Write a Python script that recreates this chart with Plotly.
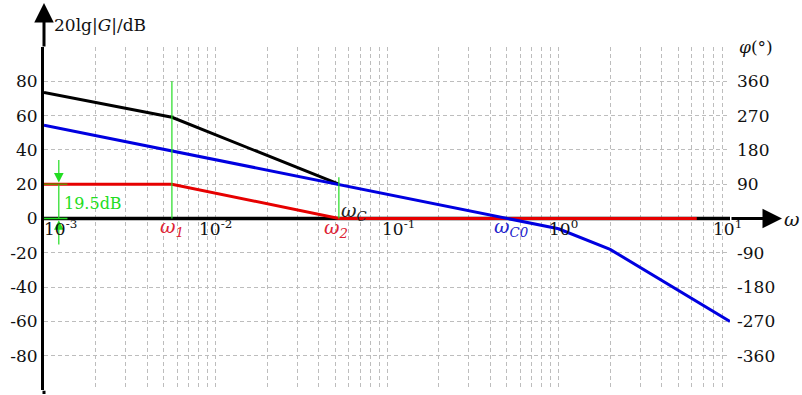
import math
import plotly.graph_objects as go

# ---------------- data ----------------
w_black = [0.001, 0.00557, 0.0524]
db_black = [73.5, 59.0, 20.0]

w_blue = [0.001, 0.0524, 0.51, 1.0, 2.0, 10.0]
db_blue = [54.4, 20.0, 0.0, -6.0, -18.0, -60.0]

w_red = [0.001, 0.00557, 0.0524, 6.4]
db_red = [20.0, 20.0, 0.0, 0.0]

w1 = 0.00557          # omega_1
wc = 0.0524           # omega_C (= omega_2)
w_gap = 0.00122       # position of the 19.5 dB dimension arrow
gap_top, gap_bot = 20.0, 0.0
gap_text = "19.5dB"

mag_ticks = [100, 80, 60, 40, 20, 0, -20, -40, -60, -80, -100]
mag_text = ["", "80", "60", "40", "20", "0", "-20", "-40", "-60", "-80", ""]
phase_ticks = [360, 270, 180, 90, -90, -180, -270, -360]
phase_text = [str(v) for v in phase_ticks]

decade_exp = [-3, -2, -1, 0, 1]
decade_lbl_x = [0.00125, 0.0100, 0.116, 1.07, 9.7]   # label centres
decade_lbl_y = -5.5

FONT = "DejaVu Serif"
RED = "#e60000"
BLUE = "#0000e0"
GREEN = "#22dd22"
GRID = "#bdbdbd"
DASH = "4px,3px"

lg = math.log10

fig = go.Figure()

# x axis line (inside plot)
fig.add_trace(go.Scatter(x=[1e-3, 10], y=[0, 0], mode="lines",
                         line=dict(color="black", width=3.5), hoverinfo="skip"))
fig.add_trace(go.Scatter(x=w_black, y=db_black, mode="lines",
                         line=dict(color="black", width=3), hoverinfo="skip"))
fig.add_trace(go.Scatter(x=w_red, y=db_red, mode="lines",
                         line=dict(color=RED, width=3), hoverinfo="skip"))
fig.add_trace(go.Scatter(x=w_blue, y=db_blue, mode="lines",
                         line=dict(color=BLUE, width=3), hoverinfo="skip"))
# green marker lines
fig.add_trace(go.Scatter(x=[w1, w1], y=[80, 0], mode="lines",
                         line=dict(color=GREEN, width=1.2), hoverinfo="skip"))
fig.add_trace(go.Scatter(x=[wc, wc], y=[24, 0], mode="lines",
                         line=dict(color=GREEN, width=1.2), hoverinfo="skip"))
fig.add_trace(go.Scatter(x=[w_gap, w_gap], y=[gap_top, gap_bot], mode="lines",
                         line=dict(color=GREEN, width=1.2), hoverinfo="skip"))
fig.add_trace(go.Scatter(x=[1e-3, 0.00137], y=[gap_top, gap_top], mode="lines",
                         line=dict(color="#6a8a00", width=1.5), hoverinfo="skip"))
fig.add_trace(go.Scatter(x=[1e-3, 0.00137], y=[gap_bot, gap_bot], mode="lines",
                         line=dict(color=GREEN, width=1.5), hoverinfo="skip"))
# invisible carrier so that the phase axis (right) is drawn
fig.add_trace(go.Scatter(x=[w_blue[0]] * len(phase_ticks), y=phase_ticks, yaxis="y2",
                         mode="markers", marker=dict(opacity=0), hoverinfo="skip"))

# x gridlines at 1..9 x 10^k
xgrid = [d * 10.0 ** k for k in range(-3, 1) for d in range(1, 10)] + [10.0]

ann = []
# axis arrows
ann.append(dict(xref="paper", yref="y", x=1.0758, y=0, ax=-52, ay=0,
                axref="pixel", ayref="pixel", text="", showarrow=True,
                arrowhead=2, arrowsize=1.3, arrowwidth=3, arrowcolor="black",
                standoff=0, startstandoff=0))
ann.append(dict(xref="paper", yref="paper", x=0, y=1.128, ax=0, ay=45,
                axref="pixel", ayref="pixel", text="", showarrow=True,
                arrowhead=2, arrowsize=1.3, arrowwidth=3, arrowcolor="black",
                standoff=0, startstandoff=0))
ann.append(dict(xref="paper", yref="paper", x=0, y=-0.015, ax=0, ay=-6,
                axref="pixel", ayref="pixel", text="", showarrow=True,
                arrowhead=0, arrowwidth=3, arrowcolor="black",
                standoff=0, startstandoff=0))
# dimension arrows
ann.append(dict(xref="x", yref="y", axref="x", ayref="y", x=lg(w_gap), y=gap_top + 1,
                ax=lg(w_gap), ay=35, text="", showarrow=True, arrowhead=2,
                arrowsize=1.6, arrowwidth=1.2, arrowcolor=GREEN))
ann.append(dict(xref="x", yref="y", axref="x", ayref="y", x=lg(w_gap), y=gap_bot - 1,
                ax=lg(w_gap), ay=-16, text="", showarrow=True, arrowhead=2,
                arrowsize=1.6, arrowwidth=1.2, arrowcolor=GREEN))
ann.append(dict(xref="x", yref="y", x=lg(0.00127), y=8.7, text=gap_text,
                showarrow=False, xanchor="left", yanchor="middle",
                font=dict(family=FONT, size=16, color=GREEN)))

# omega labels
OMF = 19
ann.append(dict(xref="x", yref="y", x=lg(w1), y=-5.2, showarrow=False,
                xanchor="center", yanchor="middle",
                text="<i>ω<sub>1</sub></i>", font=dict(family=FONT, size=OMF, color="#dd2233")))
ann.append(dict(xref="x", yref="y", x=lg(0.0505), y=-5.8, showarrow=False,
                xanchor="center", yanchor="middle",
                text="<i>ω<sub>2</sub></i>", font=dict(family=FONT, size=OMF, color="#dd2233")))
ann.append(dict(xref="x", yref="y", x=lg(0.064), y=4.0, showarrow=False,
                xanchor="center", yanchor="middle",
                text="<i>ω<sub>C</sub></i>", font=dict(family=FONT, size=OMF, color="#222222")))
ann.append(dict(xref="x", yref="y", x=lg(0.53), y=-5.2, showarrow=False,
                xanchor="center", yanchor="middle",
                text="<i>ω<sub>C0</sub></i>", font=dict(family=FONT, size=OMF, color="#2222cc")))

# decade labels
for e, xl in zip(decade_exp, decade_lbl_x):
    ann.append(dict(xref="x", yref="y", x=lg(xl), y=decade_lbl_y, showarrow=False,
                    text="10<sup>%d</sup>" % e, xanchor="center", yanchor="middle",
                    font=dict(family=FONT, size=17, color="#111111")))

# axis titles
ann.append(dict(xref="paper", yref="paper", x=1.0765, y=0.5, showarrow=False,
                xanchor="left", yanchor="middle",
                text="<i>ω</i>", font=dict(family=FONT, size=19, color="#111111")))
ann.append(dict(xref="paper", yref="paper", x=0.0117, y=1.064, showarrow=False,
                xanchor="left", yanchor="middle", text="20lg|<i>G</i>|/dB",
                font=dict(family=FONT, size=17, color="#111111")))
ann.append(dict(xref="paper", yref="paper", x=1.0102, y=1.0, showarrow=False,
                xanchor="left", yanchor="middle", text="<i>φ</i>(°)",
                font=dict(family=FONT, size=17, color="#111111")))

fig.update_layout(
    width=802, height=395,
    margin=dict(l=44, r=72, t=47, b=5),
    paper_bgcolor="white", plot_bgcolor="white",
    showlegend=False,
    font=dict(family=FONT, size=16, color="#111111"),
    annotations=ann,
    xaxis=dict(type="log", range=[-3, 1], tickvals=xgrid, showticklabels=False,
               ticks="", showgrid=True, gridcolor=GRID, griddash=DASH, gridwidth=1,
               zeroline=False, showline=False),
    yaxis=dict(range=[-100, 100], tickvals=mag_ticks, ticktext=mag_text,
               showgrid=True, gridcolor=GRID, griddash=DASH, gridwidth=1,
               zeroline=False, showline=True, linecolor="black", linewidth=3,
               ticks="", ticklabelstandoff=0, tickfont=dict(family=FONT, size=17)),
    yaxis2=dict(range=[-450, 450], overlaying="y", side="right", anchor="x",
                tickvals=phase_ticks, ticktext=phase_text, showgrid=False,
                zeroline=False, showline=False, ticks="", ticklabelstandoff=6,
                tickfont=dict(family=FONT, size=17)),
)

fig.write_html("out.html")
